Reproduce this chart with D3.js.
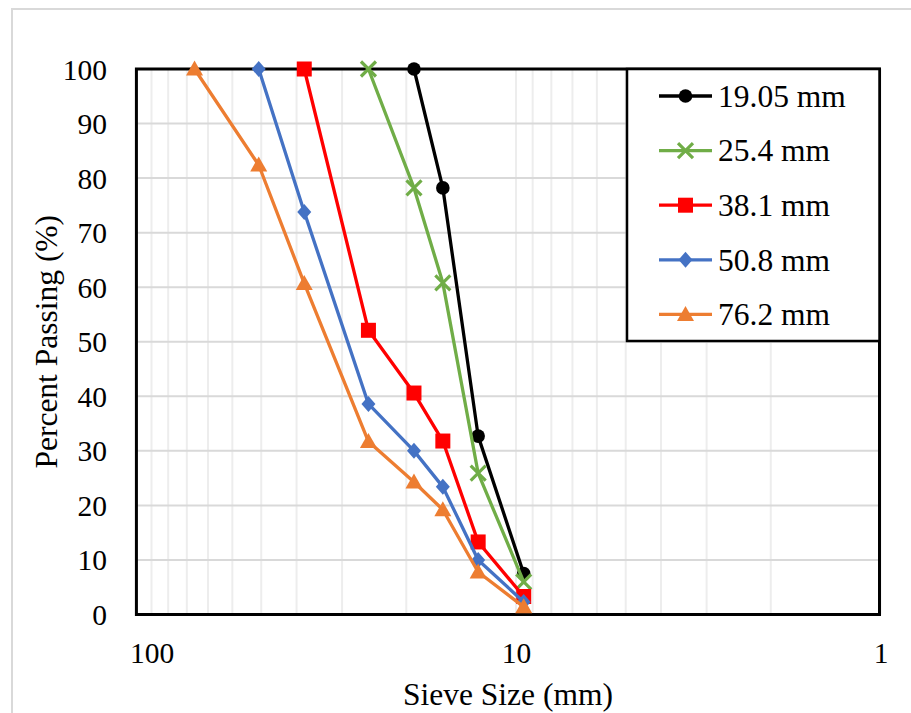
<!DOCTYPE html>
<html>
<head>
<meta charset="utf-8">
<script src="https://cdn.jsdelivr.net/npm/d3@7"></script>
<style>
  html, body { margin: 0; padding: 0; background: #fff; }
  svg { display: block; }
  text { font-family: "Times New Roman", "Liberation Serif", serif; fill: #000; }
</style>
</head>
<body>
<svg id="chart" width="911" height="713"></svg>
<script>
// ---- data ----
const seriesNames = ["19.05 mm", "25.4 mm", "38.1 mm", "50.8 mm", "76.2 mm"];
const seriesColors = ["#000000", "#70AD47", "#FF0000", "#4472C4", "#ED7D31"];
const seriesMarkers = ["circle", "x", "square", "diamond", "triangle"];

const size_19 = [19.05, 15.875, 12.7, 9.525];
const pass_19 = [100, 78.2, 32.7, 7.5];

const size_25 = [25.4, 19.05, 15.875, 12.7, 9.525];
const pass_25 = [100, 78.2, 60.8, 25.9, 6.0];

const size_38 = [38.1, 25.4, 19.05, 15.875, 12.7, 9.525];
const pass_38 = [100, 52.1, 40.6, 31.8, 13.3, 3.3];

const size_50 = [50.8, 38.1, 25.4, 19.05, 15.875, 12.7, 9.525];
const pass_50 = [100, 73.8, 38.6, 30.0, 23.4, 10.0, 2.3];

const size_76 = [76.2, 50.8, 38.1, 25.4, 19.05, 15.875, 12.7, 9.525];
const pass_76 = [100, 82.4, 60.7, 31.7, 24.3, 19.2, 7.8, 1.4];

const xTickLabels = [100, 10, 1];
const yTickLabels = [0, 10, 20, 30, 40, 50, 60, 70, 80, 90, 100];
const xMinorGrid = [100, 90, 80, 70, 60, 50, 40, 30, 20, 10, 9, 8, 7, 6, 5, 4, 3, 2, 1];

const xTitle = "Sieve Size (mm)";
const yTitle = "Percent Passing (%)";

// ---- layout ----
const svg = d3.select("#chart");
const x = d3.scaleLog().domain([100, 1]).range([151.5, 880.5]);
const y = d3.scaleLinear().domain([0, 100]).range([614.5, 69]);
const frameLeft = x(110), frameRight = 879.5;

// outer chart-area border
svg.append("rect").attr("x", 12).attr("y", 9).attr("width", 930).attr("height", 730)
  .attr("fill", "#fff").attr("stroke", "#d9d9d9").attr("stroke-width", 2);

// vertical gridlines
svg.append("g").selectAll("line").data(xMinorGrid).join("line")
  .attr("x1", d => x(d)).attr("x2", d => x(d))
  .attr("y1", y(100)).attr("y2", y(0))
  .attr("stroke", "#ededed").attr("stroke-width", 2);

// horizontal gridlines
svg.append("g").selectAll("line").data(yTickLabels).join("line")
  .attr("x1", frameLeft).attr("x2", frameRight)
  .attr("y1", d => y(d)).attr("y2", d => y(d))
  .attr("stroke", "#d9d9d9").attr("stroke-width", 2);

// plot frame
svg.append("rect").attr("x", frameLeft).attr("y", y(100))
  .attr("width", frameRight - frameLeft).attr("height", y(0) - y(100))
  .attr("fill", "none").attr("stroke", "#000").attr("stroke-width", 3);

// axes tick labels (using d3 axes, domain/ticks hidden)
const yAxis = d3.axisLeft(y).tickValues(yTickLabels).tickSize(0).tickPadding(0).tickFormat(d3.format("d"));
const gy = svg.append("g").attr("transform", "translate(107,0)").call(yAxis);
gy.select(".domain").remove();
gy.selectAll("text").attr("font-size", 29.5).attr("font-family", "'Times New Roman','Liberation Serif',serif")
  .attr("fill", "#000").attr("dy", "0.34em").attr("x", 0);

const xAxis = d3.axisBottom(x).tickValues(xTickLabels).tickSize(0).tickPadding(0).tickFormat(d3.format("d"));
const gx = svg.append("g").attr("transform", "translate(0,663)").call(xAxis);
gx.select(".domain").remove();
gx.selectAll("text").attr("font-size", 29.5).attr("font-family", "'Times New Roman','Liberation Serif',serif")
  .attr("fill", "#000").attr("dy", 0).attr("y", 0);

// axis titles
svg.append("text").attr("x", (frameLeft + frameRight) / 2).attr("y", 705)
  .attr("text-anchor", "middle").attr("font-size", 31.5).text(xTitle);
svg.append("text").attr("transform", `translate(57,${(y(0) + y(100)) / 2}) rotate(-90)`)
  .attr("text-anchor", "middle").attr("font-size", 31.5).text(yTitle);

// ---- series ----
const sizes = [size_19, size_25, size_38, size_50, size_76];
const passes = [pass_19, pass_25, pass_38, pass_50, pass_76];

function drawMarker(g, type, color, cx, cy) {
  if (type === "circle") {
    g.append("circle").attr("cx", cx).attr("cy", cy).attr("r", 6.8).attr("fill", color);
  } else if (type === "square") {
    g.append("rect").attr("x", cx - 7.5).attr("y", cy - 7.5).attr("width", 15).attr("height", 15).attr("fill", color);
  } else if (type === "diamond") {
    g.append("path").attr("d", `M${cx},${cy - 8}L${cx + 7},${cy}L${cx},${cy + 8}L${cx - 7},${cy}Z`).attr("fill", color);
  } else if (type === "triangle") {
    g.append("path").attr("d", `M${cx},${cy - 8.5}L${cx + 8.5},${cy + 6.5}L${cx - 8.5},${cy + 6.5}Z`).attr("fill", color);
  } else if (type === "x") {
    const s = 7.5;
    g.append("path").attr("d", `M${cx - s},${cy - s}L${cx + s},${cy + s}M${cx - s},${cy + s}L${cx + s},${cy - s}`)
      .attr("stroke", color).attr("stroke-width", 3.2).attr("fill", "none");
  }
}

const line = d3.line().x(d => x(d[0])).y(d => y(d[1]));

seriesNames.forEach((name, i) => {
  const pts = sizes[i].map((s, j) => [s, passes[i][j]]);
  const g = svg.append("g");
  g.append("path").datum(pts).attr("d", line)
    .attr("fill", "none").attr("stroke", seriesColors[i]).attr("stroke-width", 3.3)
    .attr("stroke-linejoin", "round");
  pts.forEach(p => drawMarker(g, seriesMarkers[i], seriesColors[i], x(p[0]), y(p[1])));
});

// ---- legend ----
const lg = svg.append("g");
lg.append("rect").attr("x", 627).attr("y", y(100)).attr("width", frameRight - 627).attr("height", 341 - y(100))
  .attr("fill", "#fff").attr("stroke", "#000").attr("stroke-width", 2.5);
seriesNames.forEach((name, i) => {
  const cy = 96 + i * 54.6;
  lg.append("line").attr("x1", 659).attr("x2", 712).attr("y1", cy).attr("y2", cy)
    .attr("stroke", seriesColors[i]).attr("stroke-width", 3.3);
  drawMarker(lg, seriesMarkers[i], seriesColors[i], 685.5, cy);
  lg.append("text").attr("x", 718).attr("y", cy).attr("dy", "0.34em")
    .attr("font-size", 31.5).text(name);
});
</script>
</body>
</html>
